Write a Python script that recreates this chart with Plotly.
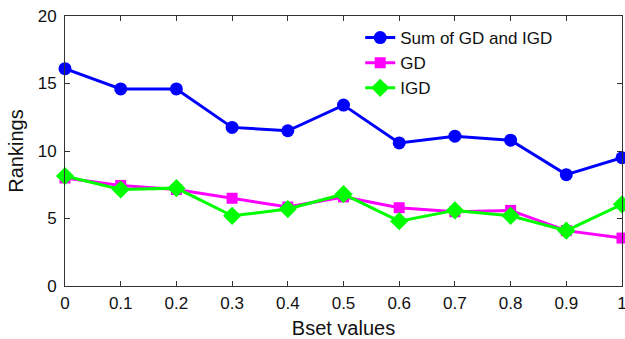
import plotly.graph_objects as go

bset = [0, 0.1, 0.2, 0.3, 0.4, 0.5, 0.6, 0.7, 0.8, 0.9, 1.0]
x_tick_labels = ["0", "0.1", "0.2", "0.3", "0.4", "0.5", "0.6", "0.7", "0.8", "0.9", "1"]
sum_gd_igd = [16.1, 14.6, 14.6, 11.75, 11.5, 13.4, 10.6, 11.1, 10.8, 8.25, 9.5]
gd = [8.0, 7.45, 7.15, 6.5, 5.85, 6.6, 5.8, 5.5, 5.6, 4.1, 3.55]
igd = [8.15, 7.15, 7.25, 5.2, 5.7, 6.8, 4.8, 5.6, 5.2, 4.1, 6.05]
y_ticks = [0, 5, 10, 15, 20]

FONT = "Liberation Sans, Arial, sans-serif"

fig = go.Figure()
fig.add_trace(go.Scatter(x=bset, y=sum_gd_igd, name="Sum of GD and IGD", mode="lines+markers",
                         line=dict(color="#0000FF", width=3),
                         marker=dict(symbol="circle", size=13, color="#0000FF"),
                         cliponaxis=False))
fig.add_trace(go.Scatter(x=bset, y=gd, name="GD", mode="lines+markers",
                         line=dict(color="#FF00FF", width=3),
                         marker=dict(symbol="square", size=11, color="#FF00FF"),
                         cliponaxis=False))
fig.add_trace(go.Scatter(x=bset, y=igd, name="IGD", mode="lines+markers",
                         line=dict(color="#00FF00", width=3),
                         marker=dict(symbol="diamond", size=14, color="#00FF00"),
                         cliponaxis=False))

axis_common = dict(showline=True, linecolor="#333333", linewidth=1, mirror="ticks",
                   ticks="inside", ticklen=5, tickcolor="#333333", showgrid=False, zeroline=False,
                   ticklabeloverflow="allow",
                   tickfont=dict(family=FONT, size=17, color="#111111"))

fig.update_xaxes(range=[0, 1], tickvals=bset, ticktext=x_tick_labels, ticklabelstandoff=2,
                 title=dict(text="Bset values", font=dict(family=FONT, size=20, color="#111111"), standoff=11),
                 **axis_common)
fig.update_yaxes(range=[0, 20], tickvals=y_ticks, ticklabelstandoff=4,
                 title=dict(text="Rankings", font=dict(family=FONT, size=20, color="#111111"), standoff=8),
                 **axis_common)

fig.update_layout(
    width=625, height=339,
    margin=dict(l=65, r=3, t=16, b=53, autoexpand=False),
    paper_bgcolor="white", plot_bgcolor="white",
    font=dict(family=FONT, size=17, color="#111111"),
    legend=dict(x=0.53, y=0.985, xanchor="left", yanchor="top", bgcolor="rgba(0,0,0,0)",
                font=dict(size=17), itemwidth=30, tracegroupgap=0),
    showlegend=True,
)

fig.write_html(
    "out.html",
    config={"responsive": False, "displayModeBar": False},
    post_script="document.body.style.margin='0';document.body.style.padding='0';document.body.style.overflow='hidden';",
)
